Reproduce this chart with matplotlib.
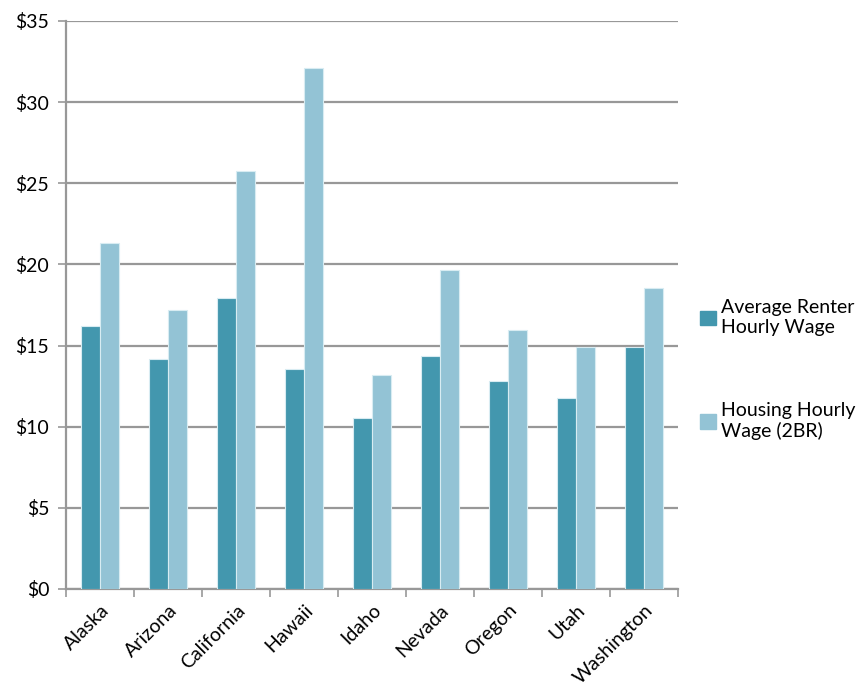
import numpy as np
import matplotlib
matplotlib.use("Agg")
import matplotlib.pyplot as plt
from matplotlib.patches import Patch

plt.rcParams["font.family"] = ["Lato", "DejaVu Sans"]

# data
states = ["Alaska", "Arizona", "California", "Hawaii", "Idaho",
          "Nevada", "Oregon", "Utah", "Washington"]
renter_wage = [16.23, 14.18, 17.96, 13.54, 10.52, 14.36, 12.80, 11.76, 14.88]
housing_wage = [21.34, 17.16, 25.74, 32.10, 13.21, 19.67, 15.97, 14.94, 18.56]
y_ticks = [0, 5, 10, 15, 20, 25, 30, 35]

dark = "#4397AE"
light = "#93C3D5"
grid_c = "#989898"

fig = plt.figure(figsize=(8.64, 6.90), dpi=100)
ax = fig.add_axes([0.0764, 0.1464, 0.7086, 0.8232])

x = np.arange(len(states))
w = 0.28
ax.bar(x - w / 2, renter_wage, w, color=dark, edgecolor="#d8ecf2",
       linewidth=0.8, zorder=3)
ax.bar(x + w / 2, housing_wage, w, color=light, edgecolor="#d8ecf2",
       linewidth=0.8, zorder=3)

ax.set_xlim(-0.5, len(states) - 0.5)
ax.set_ylim(0, 35)
ax.set_yticks(y_ticks)
ax.set_yticklabels([f"${v}" for v in y_ticks], fontsize=14)
ax.yaxis.grid(True, color=grid_c, linewidth=1.6, zorder=0)
ax.set_axisbelow(True)

# category ticks sit between groups
ax.set_xticks(np.arange(len(states) + 1) - 0.5, minor=False)
ax.set_xticklabels([])
ax.set_xticks(x, minor=True)
ax.set_xticklabels(states, minor=True, rotation=45, ha="right",
                   rotation_mode="anchor", fontsize=14)
ax.tick_params(axis="x", which="minor", length=0, pad=9)
ax.tick_params(axis="x", which="major", length=6, color=grid_c, width=1.2)
ax.tick_params(axis="y", length=6, color=grid_c, width=1.2, pad=6)

for side in ["top", "right"]:
    ax.spines[side].set_visible(False)
for side in ["left", "bottom"]:
    ax.spines[side].set_color(grid_c)
    ax.spines[side].set_linewidth(1.6)

handles = [Patch(color=dark, label="Average Renter\nHourly Wage"),
           Patch(color=light, label="Housing Hourly\nWage (2BR)")]
fig.legend(handles=handles, loc="center left", bbox_to_anchor=(0.79, 0.464),
           frameon=False, fontsize=14, handlelength=0.8, handleheight=0.75,
           handletextpad=0.3, labelspacing=3.4)

fig.savefig("out.png", dpi=100)
